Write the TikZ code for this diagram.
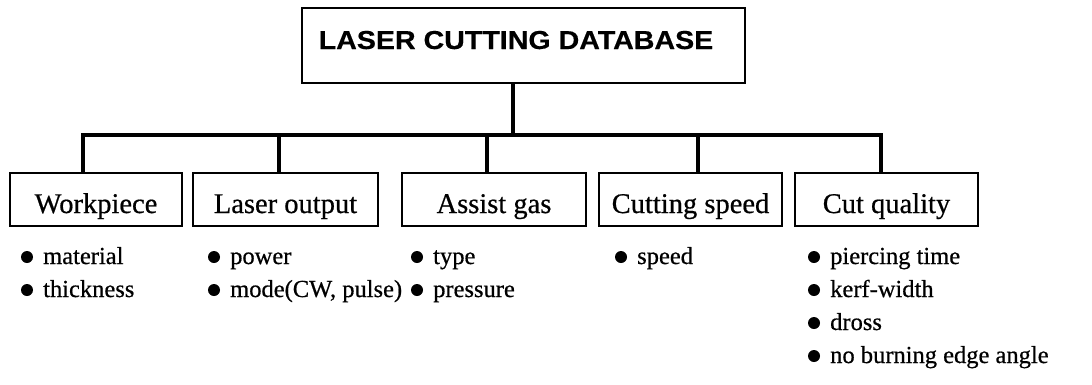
\documentclass[tikz,border=0pt]{standalone}
\usepackage{fontspec}
\setmainfont[FakeBold=0.6]{Liberation Serif}
\newfontfamily\headfont[FakeBold=0.4]{Liberation Sans}
\begin{document}
\begin{tikzpicture}[x=1pt,y=-1pt,
  box/.style={draw, line width=1.2pt, inner sep=0pt, minimum height=53pt,
    text height=27pt, text depth=0pt, font=\fontsize{28.5}{32}\selectfont},
  headbox/.style={draw, line width=1.2pt, inner sep=0pt, minimum width=443pt,
    minimum height=75pt, text height=24pt, text depth=17pt,
    font=\headfont\bfseries\fontsize{26}{30}\selectfont},
  link/.style={line width=3.2pt},
  item/.style={anchor=base west, inner sep=0pt, font=\fontsize{24.5}{28}\selectfont},
  dot/.style={fill=black}]
\useasboundingbox (0,0) rectangle (1092,384);

% root
\node[headbox] (top) at (523.5,45.5) {\scalebox{1.1}[1]{LASER CUTTING DATABASE}\hspace*{15pt}};

% categories
\node[box, minimum width=172pt] (wp)  at (96,199.5)    {Workpiece};
\node[box, minimum width=185pt] (lo)  at (285.5,199.5) {Laser output};
\node[box, minimum width=184pt] (ag)  at (494,199.5)   {Assist gas};
\node[box, minimum width=183pt] (cs)  at (690.5,199.5) {Cutting speed};
\node[box, minimum width=183pt] (cq)  at (886.5,199.5) {Cut quality};

% bus coordinates
\coordinate (b0) at (513,135);
\coordinate (b1) at (83,135);
\coordinate (b2) at (279,135);
\coordinate (b3) at (487,135);
\coordinate (b4) at (698,135);
\coordinate (b5) at (881,135);

\draw[link] (b0 |- top.south) -- (b0);
\draw[link, line cap=rect] (b1 |- wp.north) -- (b1) -- (b5) -- (b5 |- cq.north);
\draw[link] (b2) -- (b2 |- lo.north);
\draw[link] (b3) -- (b3 |- ag.north);
\draw[link] (b4) -- (b4 |- cs.north);

% attribute lists
\node[item] (w1) at (43,264)  {material};
\node[item] (w2) at (43,297)  {thickness};
\node[item] (l1) at (230,264) {power};
\node[item] (l2) at (230,297) {mode(CW, pulse)};
\node[item] (a1) at (433,264) {type};
\node[item] (a2) at (433,297) {pressure};
\node[item] (s1) at (637,264) {speed};
\node[item] (q1) at (830,264) {piercing time};
\node[item] (q2) at (830,297) {kerf-width};
\node[item] (q3) at (830,330) {dross};
\node[item] (q4) at (830,363) {no burning edge angle};

\foreach \n in {w1,w2,l1,l2,a1,a2,s1,q1,q2,q3,q4}
  \fill[dot] ([xshift=-16pt,yshift=7pt]\n.base west) circle (6pt);
\end{tikzpicture}
\end{document}
